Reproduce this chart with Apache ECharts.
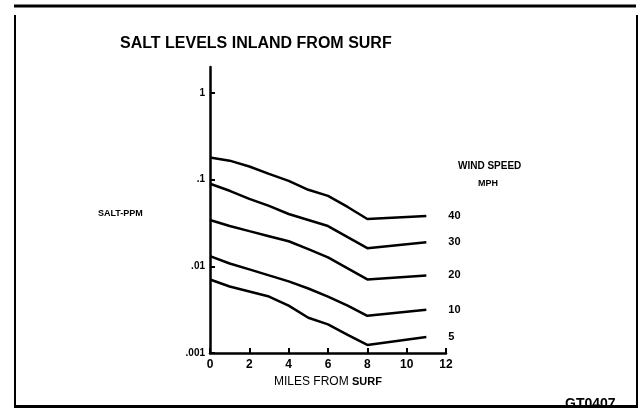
<!DOCTYPE html>
<html lang="en">
<head>
  <meta charset="UTF-8">
  <title>Salt levels inland from surf</title>
  <script src="https://cdn.jsdelivr.net/npm/echarts@6/dist/echarts.min.js"></script>
  <style>
    html, body { margin: 0; padding: 0; background: #fff; }
  </style>
</head>
<body>
  <div id="chart" style="width: 642px; height: 409px;"></div>

  <script>
    // miles from surf (x positions of the readings)
    let miles = [0, 1, 2, 3, 4, 5, 6, 7, 8, 11]
    // salt in ppm, one list per wind speed (mph)
    let wind40 = [0.180, 0.166, 0.142, 0.117, 0.097, 0.0765, 0.065, 0.0485, 0.0352, 0.0381]
    let wind30 = [0.0898, 0.0745, 0.0601, 0.0499, 0.0402, 0.0343, 0.0292, 0.0217, 0.0162, 0.0190]
    let wind20 = [0.0343, 0.0292, 0.0255, 0.0223, 0.0195, 0.0158, 0.0127, 0.0095, 0.00706, 0.00786]
    let wind10 = [0.0131, 0.0108, 0.00923, 0.00786, 0.0067, 0.00555, 0.00448, 0.00352, 0.00269, 0.00316]
    let wind5 = [0.00706, 0.00585, 0.00512, 0.00448, 0.00352, 0.00255, 0.00214, 0.00162, 0.00124, 0.00153]
    let speeds = ['40', '30', '20', '10', '5']
    // y ticks and how they are printed
    let yTicks = [0.001, 0.01, 0.1, 1]
    let yTickLabels = ['.001', '.01', '.1', '1']

    let myChart = echarts.init(document.querySelector('#chart'))

    let allSeries = [wind40, wind30, wind20, wind10, wind5]
    let series = allSeries.map((vals, i) => ({
      name: speeds[i],
      type: 'line',
      data: vals.map((v, j) => [miles[j], v]),
      symbol: 'none',
      lineStyle: { color: '#000', width: 2.5 },
      endLabel: {
        show: true,
        formatter: speeds[i],
        distance: 22,
        color: '#000',
        fontFamily: 'Liberation Sans',
        fontWeight: 'bold',
        fontSize: 11
      },
      silent: true
    }))

    let font = 'Liberation Sans'

    let options = {
      animation: false,
      backgroundColor: '#fff',
      grid: { left: 210, right: 196, top: 67, bottom: 56 },
      xAxis: {
        type: 'value',
        min: 0,
        max: 12,
        interval: 2,
        splitLine: { show: false },
        axisLine: { lineStyle: { color: '#000', width: 2.5 } },
        axisTick: { inside: true, length: 5, lineStyle: { color: '#000', width: 2 } },
        axisLabel: { color: '#000', fontFamily: font, fontWeight: 'bold', fontSize: 12, margin: 6 },
        name: '{a|MILES FROM }{b|SURF}',
        nameLocation: 'middle',
        nameGap: 23,
        nameTextStyle: {
          rich: {
            a: { color: '#000', fontFamily: font, fontSize: 12 },
            b: { color: '#000', fontFamily: font, fontWeight: 'bold', fontSize: 11 }
          }
        }
      },
      yAxis: {
        type: 'log',
        logBase: 10,
        min: 0.001,
        max: 2,
        splitLine: { show: false },
        axisLine: { lineStyle: { color: '#000', width: 2.5 } },
        axisTick: {
          inside: true, length: 5, customValues: yTicks,
          lineStyle: { color: '#000', width: 2 }
        },
        axisLabel: {
          color: '#000',
          fontFamily: font,
          fontWeight: 'bold',
          fontSize: 10,
          margin: 5,
          customValues: yTicks,
          formatter(v) {
            let lg = Math.log10(v)
            let k = Math.round(lg) + 3
            if (Math.abs(lg - Math.round(lg)) > 0.01) return ''
            return yTickLabels[k] || ''
          }
        }
      },
      graphic: [
        // frame
        { type: 'line', shape: { x1: 14, y1: 6, x2: 636, y2: 6 }, style: { stroke: '#000', lineWidth: 3 } },
        { type: 'line', shape: { x1: 15, y1: 15, x2: 15, y2: 406 }, style: { stroke: '#000', lineWidth: 2 } },
        { type: 'line', shape: { x1: 637, y1: 15, x2: 637, y2: 406 }, style: { stroke: '#000', lineWidth: 2 } },
        {
          type: 'text', left: 565, top: 397,
          style: { text: 'GT0407', fill: '#000', font: 'bold 14px "Liberation Sans"' }
        },
        { type: 'line', shape: { x1: 14, y1: 406.5, x2: 638, y2: 406.5 }, style: { stroke: '#000', lineWidth: 3 } },
        // title
        {
          type: 'text', left: 120, top: 36,
          style: { text: 'SALT LEVELS INLAND FROM SURF', fill: '#000', font: 'bold 16px "Liberation Sans"' }
        },
        // y axis name
        {
          type: 'text', left: 98, top: 209,
          style: { text: 'SALT-PPM', fill: '#000', font: 'bold 9px "Liberation Sans"' }
        },
        // legend heading
        {
          type: 'text', left: 458, top: 161,
          style: { text: 'WIND SPEED', fill: '#000', font: 'bold 10px "Liberation Sans"' }
        },
        {
          type: 'text', left: 478, top: 179,
          style: { text: 'MPH', fill: '#000', font: 'bold 9px "Liberation Sans"' }
        }
      ],
      series: series
    }

    myChart.setOption(options)
  </script>
</body>
</html>
